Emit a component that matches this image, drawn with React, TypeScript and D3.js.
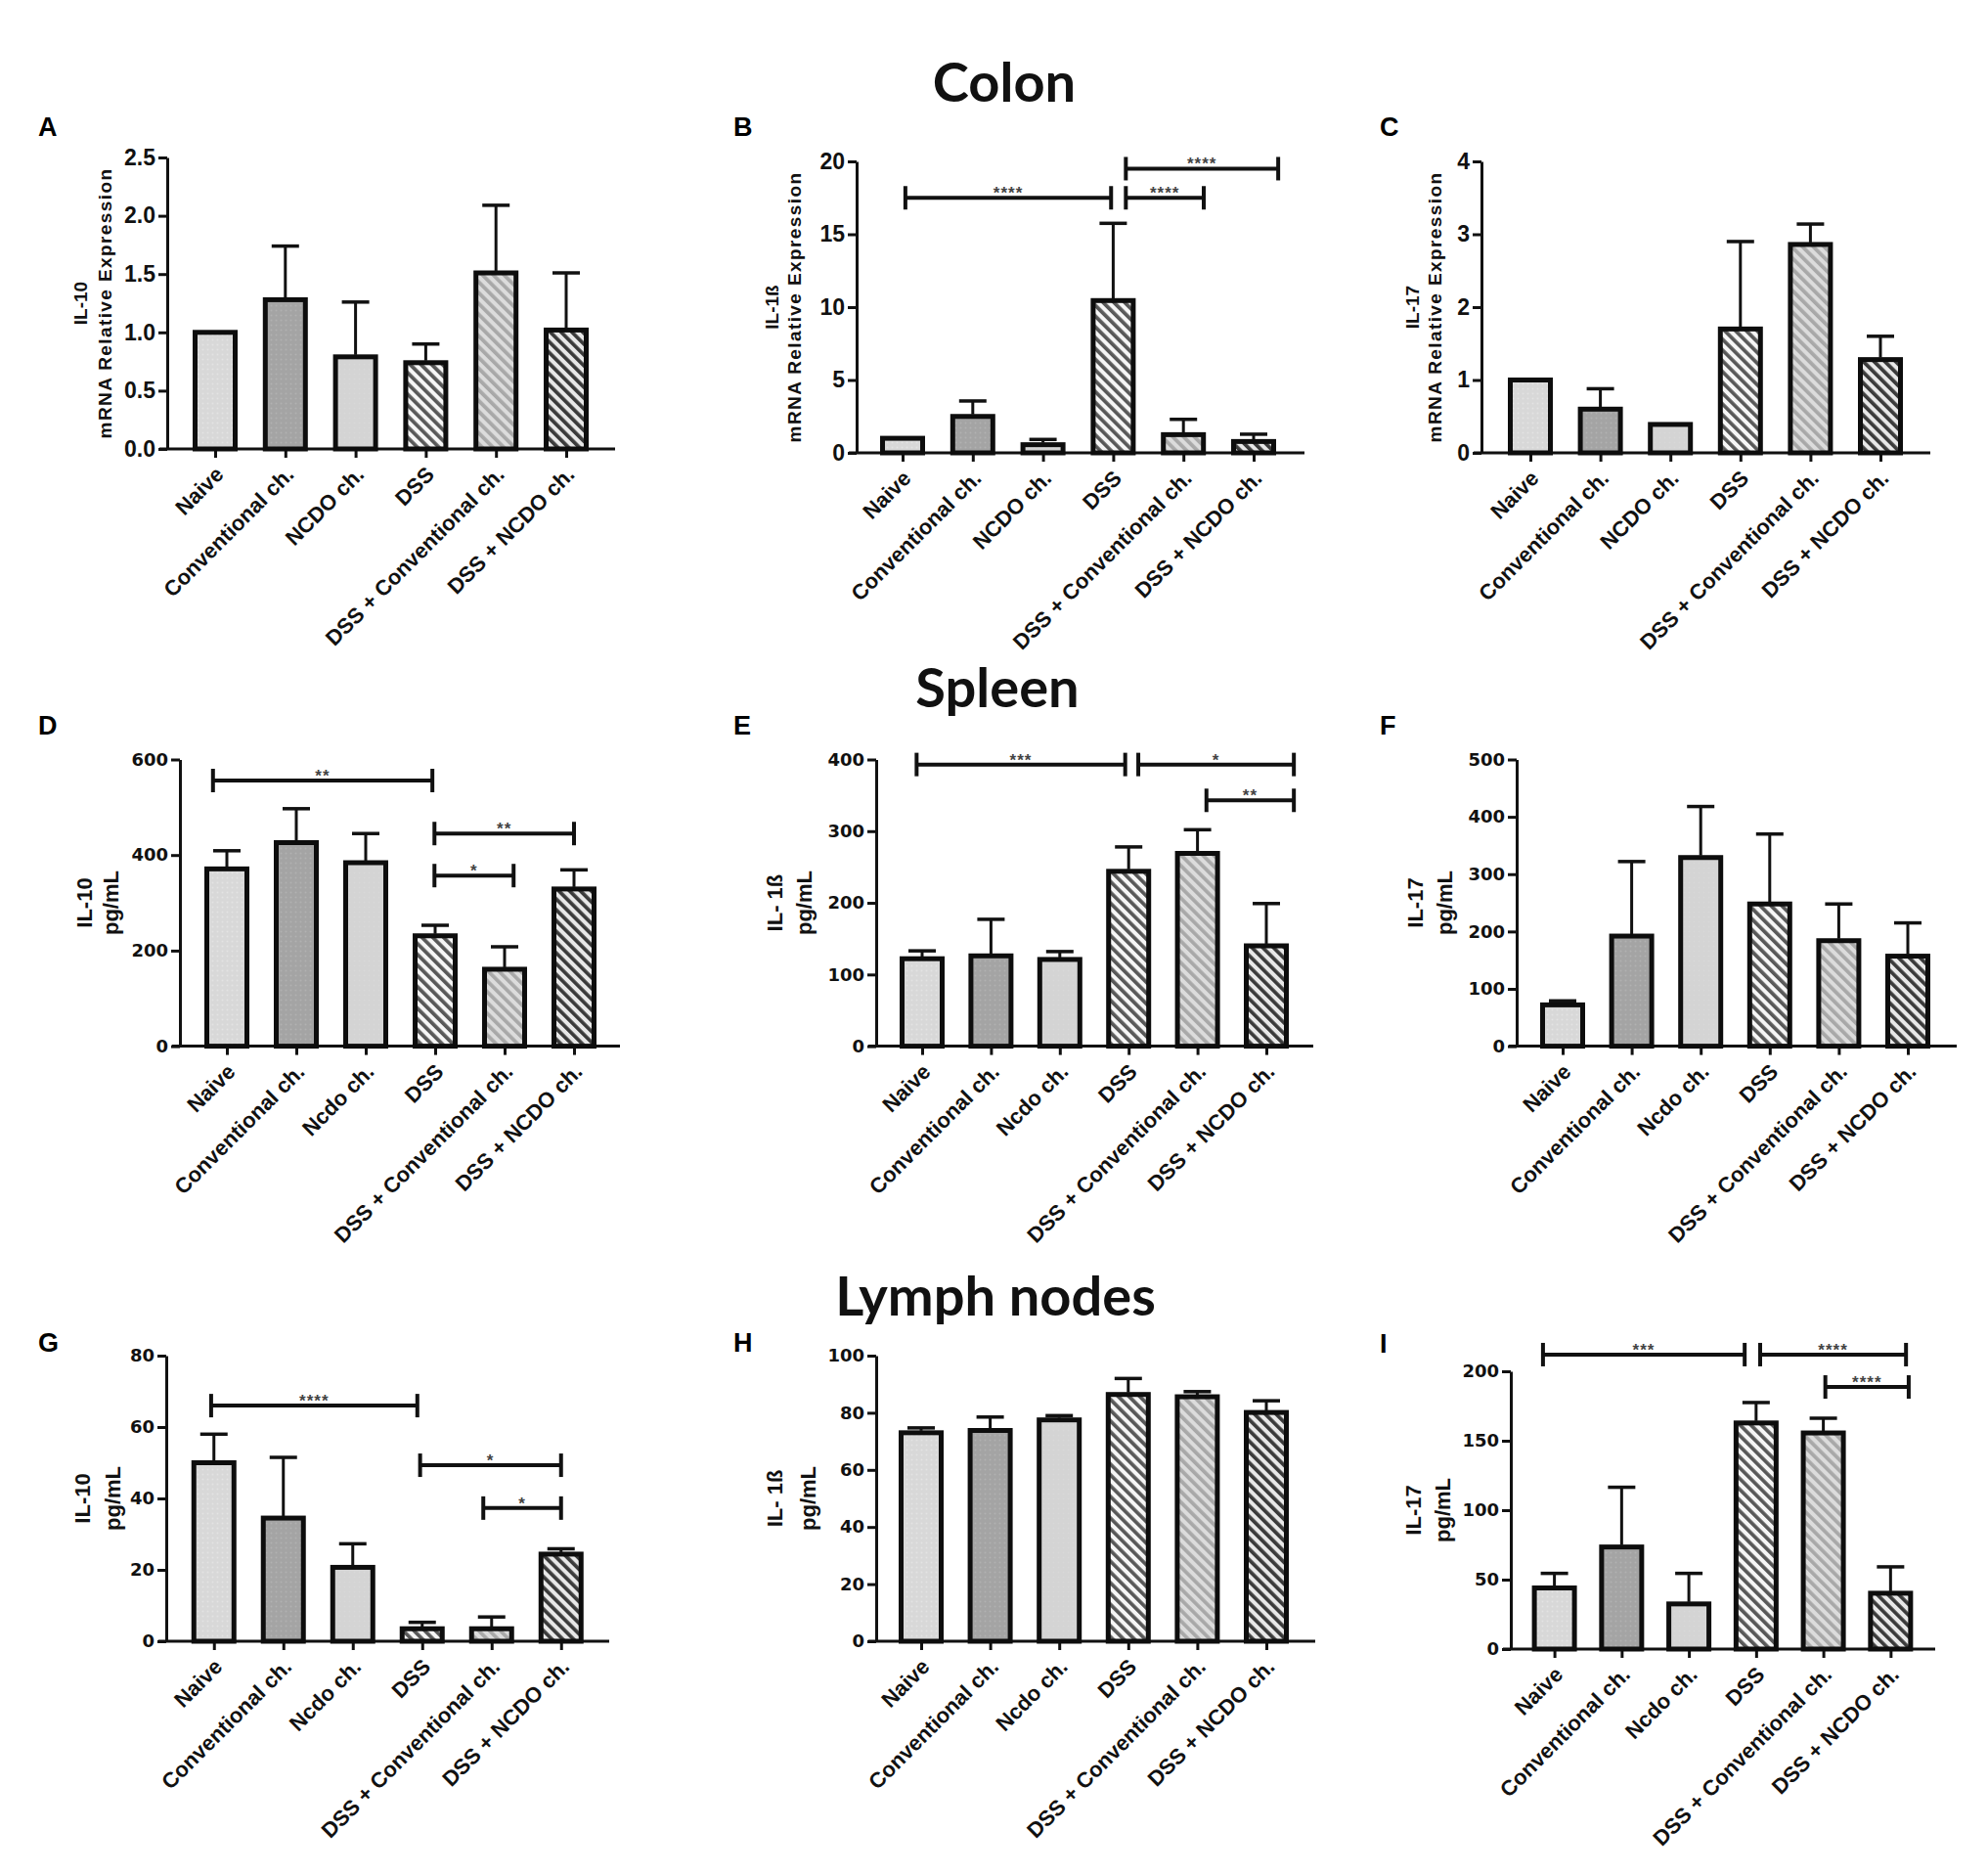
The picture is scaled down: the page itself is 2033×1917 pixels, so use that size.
import * as d3 from "d3";
import React, { useEffect, useRef } from "react";

const colonGroups = [
  "Naive",
  "Conventional ch.",
  "NCDO ch.",
  "DSS",
  "DSS + Conventional ch.",
  "DSS + NCDO ch.",
];
const tissueGroups = [
  "Naive",
  "Conventional ch.",
  "Ncdo ch.",
  "DSS",
  "DSS + Conventional ch.",
  "DSS + NCDO ch.",
];

// group means and SEM
const colonIl10Mean = [1.0, 1.28, 0.79, 0.74, 1.51, 1.02];
const colonIl10Sem = [0, 0.46, 0.47, 0.16, 0.58, 0.49];
const colonIl1bMean = [1.0, 2.5, 0.56, 10.45, 1.25, 0.78];
const colonIl1bSem = [0, 1.06, 0.36, 5.3, 1.05, 0.5];
const colonIl17Mean = [1.0, 0.6, 0.39, 1.7, 2.86, 1.28];
const colonIl17Sem = [0, 0.28, 0, 1.2, 0.28, 0.32];

const spleenIl10Mean = [371, 426, 384, 231, 161, 329];
const spleenIl10Sem = [38, 71, 61, 22, 47, 40];
const spleenIl1bMean = [122, 126, 121, 244, 269, 140];
const spleenIl1bSem = [11, 51, 11, 34, 33, 59];
const spleenIl17Mean = [72, 192, 329, 248, 184, 157];
const spleenIl17Sem = [7, 130, 89, 122, 64, 58];

const lymphIl10Mean = [50, 34.5, 20.7, 3.5, 3.5, 24.4];
const lymphIl10Sem = [8, 17, 6.6, 1.8, 3.3, 1.5];
const lymphIl1bMean = [73, 73.8, 77.5, 86.4, 85.6, 80.1];
const lymphIl1bSem = [1.7, 4.7, 1.5, 5.6, 1.8, 4.1];
const lymphIl17Mean = [44, 73.5, 32.5, 162.8, 155.6, 40.2];
const lymphIl17Sem = [10.5, 43, 22, 14.7, 10.6, 19];

type Bracket = { from: number; to: number; at: number; label: string };

// significance bars: from/to are group positions, at is the y value
const colonIl1bSig: Bracket[] = [
  { from: 0.04, to: 2.97, at: 17.5, label: "****" },
  { from: 3.18, to: 4.29, at: 17.5, label: "****" },
  { from: 3.18, to: 5.35, at: 19.5, label: "****" },
];
const spleenIl10Sig: Bracket[] = [
  { from: -0.2, to: 2.96, at: 556, label: "**" },
  { from: 2.99, to: 5.0, at: 445, label: "**" },
  { from: 2.99, to: 4.13, at: 357, label: "*" },
];
const spleenIl1bSig: Bracket[] = [
  { from: -0.08, to: 2.95, at: 393, label: "***" },
  { from: 3.14, to: 5.4, at: 393, label: "*" },
  { from: 4.13, to: 5.4, at: 343, label: "**" },
];
const lymphIl10Sig: Bracket[] = [
  { from: -0.04, to: 2.93, at: 66, label: "****" },
  { from: 2.97, to: 5.0, at: 49.3, label: "*" },
  { from: 3.88, to: 5.0, at: 37.3, label: "*" },
];
const lymphIl17Sig: Bracket[] = [
  { from: -0.17, to: 2.83, at: 212, label: "***" },
  { from: 3.06, to: 5.23, at: 212, label: "****" },
  { from: 4.03, to: 5.27, at: 188.7, label: "****" },
];

const sectionTitles = ["Colon", "Spleen", "Lymph nodes"];

const fillIds = ["fNaive", "fConv", "fNcdo", "fDss", "fDssConv", "fDssNcdo"];

type Panel = {
  letter: string;
  lx: number;
  ly: number;
  groups: string[];
  mean: number[];
  sem: number[];
  sig: Bracket[];
  yMax: number;
  ticks: number[];
  fmt: (v: number) => string;
  ylabel: string[];
  x0: number;
  x1: number;
  c0: number;
  step: number;
  yBase: number;
  yTop: number;
  lab: [number, number];
  row: number;
};

const f1 = (v: number) => d3.format(".1f")(v);
const f0 = (v: number) => d3.format("d")(v);

const panels: Panel[] = [
  { letter: "A", lx: 39, ly: 139, groups: colonGroups, mean: colonIl10Mean, sem: colonIl10Sem, sig: [], yMax: 2.5, ticks: [0, 0.5, 1, 1.5, 2, 2.5], fmt: f1, ylabel: ["IL-10", "mRNA Relative Expression"], x0: 171, x1: 629, c0: 220, step: 71.8, yBase: 459, yTop: 161, lab: [-82, -57], row: 0 },
  { letter: "B", lx: 750, ly: 139, groups: colonGroups, mean: colonIl1bMean, sem: colonIl1bSem, sig: colonIl1bSig, yMax: 20, ticks: [0, 5, 10, 15, 20], fmt: f0, ylabel: ["IL-1ß", "mRNA Relative Expression"], x0: 876, x1: 1334, c0: 923, step: 71.8, yBase: 463, yTop: 165, lab: [-80, -57], row: 0 },
  { letter: "C", lx: 1411, ly: 139, groups: colonGroups, mean: colonIl17Mean, sem: colonIl17Sem, sig: [], yMax: 4, ticks: [0, 1, 2, 3, 4], fmt: f0, ylabel: ["IL-17", "mRNA Relative Expression"], x0: 1515, x1: 1974, c0: 1565, step: 71.6, yBase: 463, yTop: 165, lab: [-64, -41], row: 0 },
  { letter: "D", lx: 39, ly: 751, groups: tissueGroups, mean: spleenIl10Mean, sem: spleenIl10Sem, sig: spleenIl10Sig, yMax: 600, ticks: [0, 200, 400, 600], fmt: f0, ylabel: ["IL-10", "pg/mL"], x0: 184, x1: 634, c0: 232, step: 71, yBase: 1069.6, yTop: 776.5, lab: [-90, -63], row: 1 },
  { letter: "E", lx: 750, ly: 751, groups: tissueGroups, mean: spleenIl1bMean, sem: spleenIl1bSem, sig: spleenIl1bSig, yMax: 400, ticks: [0, 100, 200, 300, 400], fmt: f0, ylabel: ["IL- 1ß", "pg/mL"], x0: 896, x1: 1343, c0: 943, step: 70.4, yBase: 1069.6, yTop: 776.5, lab: [-96, -66], row: 1 },
  { letter: "F", lx: 1411, ly: 751, groups: tissueGroups, mean: spleenIl17Mean, sem: spleenIl17Sem, sig: [], yMax: 500, ticks: [0, 100, 200, 300, 400, 500], fmt: f0, ylabel: ["IL-17", "pg/mL"], x0: 1551, x1: 2001, c0: 1598, step: 70.6, yBase: 1069.6, yTop: 776.5, lab: [-96, -66], row: 1 },
  { letter: "G", lx: 39, ly: 1382, groups: tissueGroups, mean: lymphIl10Mean, sem: lymphIl10Sem, sig: lymphIl10Sig, yMax: 80, ticks: [0, 20, 40, 60, 80], fmt: f0, ylabel: ["IL-10", "pg/mL"], x0: 170, x1: 623, c0: 218.75, step: 71, yBase: 1678, yTop: 1386, lab: [-78, -47], row: 2 },
  { letter: "H", lx: 750, ly: 1382, groups: tissueGroups, mean: lymphIl1bMean, sem: lymphIl1bSem, sig: [], yMax: 100, ticks: [0, 20, 40, 60, 80, 100], fmt: f0, ylabel: ["IL- 1ß", "pg/mL"], x0: 896, x1: 1345, c0: 942, step: 70.6, yBase: 1678, yTop: 1386, lab: [-96, -62], row: 2 },
  { letter: "I", lx: 1411, ly: 1383, groups: tissueGroups, mean: lymphIl17Mean, sem: lymphIl17Sem, sig: lymphIl17Sig, yMax: 200, ticks: [0, 50, 100, 150, 200], fmt: f0, ylabel: ["IL-17", "pg/mL"], x0: 1545, x1: 1979, c0: 1589.6, step: 68.75, yBase: 1686, yTop: 1402, lab: [-92, -62], row: 2 },
];

const titlePos = [
  { x: 1027, y: 104 },
  { x: 1020, y: 723 },
  { x: 1018, y: 1345 },
];

const ARIAL = "'Liberation Sans', Arial, sans-serif";
const WIDE = "'DejaVu Sans', Verdana, sans-serif";

function stripes(defs: any, id: string, bg: string, fg: string) {
  const p = defs
    .append("pattern")
    .attr("id", id)
    .attr("patternUnits", "userSpaceOnUse")
    .attr("width", 7.8)
    .attr("height", 7.8)
    .attr("patternTransform", "rotate(-45)");
  p.append("rect").attr("width", 7.8).attr("height", 7.8).attr("fill", bg);
  p.append("rect").attr("width", 3.7).attr("height", 7.8).attr("fill", fg);
}

function dots(defs: any, id: string, bg: string, dot: string) {
  const p = defs
    .append("pattern")
    .attr("id", id)
    .attr("patternUnits", "userSpaceOnUse")
    .attr("width", 5)
    .attr("height", 5);
  p.append("rect").attr("width", 5).attr("height", 5).attr("fill", bg);
  p.append("circle").attr("cx", 2.5).attr("cy", 2.5).attr("r", 1).attr("fill", dot);
}

const App: React.FC = () => {
  const ref = useRef<SVGSVGElement>(null);

  useEffect(() => {
    if (!ref.current) return;
    const svg = d3.select(ref.current);
    svg.selectAll("*").remove();

    const defs = svg.append("defs");
    dots(defs, "fNaive", "#d8d8d8", "#e3e3e3");
    dots(defs, "fConv", "#a4a4a4", "#b1b1b1");
    dots(defs, "fNcdo", "#d4d4d4", "#d8d8d8");
    stripes(defs, "fDss", "#f6f6f6", "#585858");
    stripes(defs, "fDssConv", "#dcdcdc", "#a8a8a8");
    stripes(defs, "fDssNcdo", "#e8e8e8", "#3a3a3a");

    svg
      .selectAll(".section")
      .data(sectionTitles)
      .enter()
      .append("text")
      .attr("x", (_, i) => titlePos[i].x)
      .attr("y", (_, i) => titlePos[i].y)
      .attr("text-anchor", "middle")
      .style("font-family", "Lato, 'Open Sans', sans-serif")
      .style("font-weight", 700)
      .style("font-size", "56px")
      .attr("fill", "#111")
      .text((d) => d);

    panels.forEach((p) => {
      const g = svg.append("g");
      const y = d3.scaleLinear().domain([0, p.yMax]).range([p.yBase, p.yTop]);
      const last = p.c0 + (p.groups.length - 1) * p.step;
      const x = d3.scalePoint<string>().domain(p.groups).range([p.c0, last]);
      const pos = d3.scaleLinear().domain([0, p.groups.length - 1]).range([p.c0, last]);
      const bw = 41;
      const tickFont = p.row === 0 ? ARIAL : WIDE;
      const tickSize = p.row === 0 ? "23px" : "18px";

      g.append("text")
        .attr("x", p.lx)
        .attr("y", p.ly)
        .style("font-family", ARIAL)
        .style("font-weight", 700)
        .style("font-size", "27px")
        .attr("fill", "#000")
        .text(p.letter);

      // y axis
      const ya = g
        .append("g")
        .attr("transform", `translate(${p.x0},0)`)
        .call(
          d3
            .axisLeft(y)
            .tickValues(p.ticks)
            .tickFormat((v) => p.fmt(+v))
            .tickSize(9)
            .tickSizeOuter(0)
            .tickPadding(3)
        );
      ya.select(".domain").attr("stroke", "#111").attr("stroke-width", 3);
      ya.selectAll(".tick line").attr("stroke", "#111").attr("stroke-width", 3);
      ya.selectAll(".tick text")
        .style("font-family", tickFont)
        .style("font-weight", 700)
        .style("font-size", tickSize)
        .attr("fill", "#111");

      // x axis
      g.append("line")
        .attr("x1", p.x0 - 8)
        .attr("x2", p.x1)
        .attr("y1", p.yBase)
        .attr("y2", p.yBase)
        .attr("stroke", "#111")
        .attr("stroke-width", 3);
      const xa = g
        .append("g")
        .attr("transform", `translate(0,${p.yBase})`)
        .call(d3.axisBottom(x).tickSize(9).tickSizeOuter(0));
      xa.select(".domain").remove();
      xa.selectAll(".tick line").attr("stroke", "#111").attr("stroke-width", 3);
      xa.selectAll(".tick text")
        .attr("x", 0)
        .attr("y", 0)
        .attr("dy", "0.35em")
        .attr("text-anchor", "end")
        .attr("transform", "translate(4,22) rotate(-45)")
        .style("font-family", ARIAL)
        .style("font-weight", 700)
        .style("font-size", "22px")
        .attr("fill", "#111");

      // y label
      const labSize = p.row === 0 ? 19 : 22;
      const yc = (p.yBase + p.yTop) / 2;
      p.ylabel.forEach((t, i) => {
        g.append("text")
          .attr("transform", `translate(${p.x0 + p.lab[i]},${yc}) rotate(-90)`)
          .attr("text-anchor", "middle")
          .style("font-family", ARIAL)
          .style("font-weight", 700)
          .style("font-size", `${labSize}px`)
          .style("letter-spacing", p.row === 0 && i === 1 ? "1.4px" : "0px")
          .attr("fill", "#111")
          .text(t);
      });

      const data = p.groups.map((name, i) => ({ name, i, m: p.mean[i], s: p.sem[i] }));

      g.selectAll(".bar")
        .data(data)
        .enter()
        .append("rect")
        .attr("x", (d) => (x(d.name) ?? 0) - bw / 2)
        .attr("width", bw)
        .attr("y", (d) => y(d.m))
        .attr("height", (d) => p.yBase - y(d.m))
        .attr("fill", (d) => `url(#${fillIds[d.i]})`)
        .attr("stroke", "#0d0d0d")
        .attr("stroke-width", 5);

      const errs = data.filter((d) => d.s > 0);
      g.selectAll(".err")
        .data(errs)
        .enter()
        .append("line")
        .attr("x1", (d) => x(d.name) ?? 0)
        .attr("x2", (d) => x(d.name) ?? 0)
        .attr("y1", (d) => y(d.m) - 2)
        .attr("y2", (d) => y(d.m + d.s))
        .attr("stroke", "#111")
        .attr("stroke-width", 3);
      g.selectAll(".cap")
        .data(errs)
        .enter()
        .append("line")
        .attr("x1", (d) => (x(d.name) ?? 0) - 14)
        .attr("x2", (d) => (x(d.name) ?? 0) + 14)
        .attr("y1", (d) => y(d.m + d.s))
        .attr("y2", (d) => y(d.m + d.s))
        .attr("stroke", "#111")
        .attr("stroke-width", 3.5);

      // significance brackets
      const sg = g.selectAll(".sig").data(p.sig).enter().append("g");
      sg.append("line")
        .attr("x1", (d) => pos(d.from))
        .attr("x2", (d) => pos(d.to))
        .attr("y1", (d) => y(d.at))
        .attr("y2", (d) => y(d.at))
        .attr("stroke", "#111")
        .attr("stroke-width", 4);
      sg.append("line")
        .attr("x1", (d) => pos(d.from))
        .attr("x2", (d) => pos(d.from))
        .attr("y1", (d) => y(d.at) - 12)
        .attr("y2", (d) => y(d.at) + 12)
        .attr("stroke", "#111")
        .attr("stroke-width", 4);
      sg.append("line")
        .attr("x1", (d) => pos(d.to))
        .attr("x2", (d) => pos(d.to))
        .attr("y1", (d) => y(d.at) - 12)
        .attr("y2", (d) => y(d.at) + 12)
        .attr("stroke", "#111")
        .attr("stroke-width", 4);
      sg.append("text")
        .attr("x", (d) => (pos(d.from) + pos(d.to)) / 2)
        .attr("y", (d) => y(d.at) + 1)
        .attr("text-anchor", "middle")
        .style("font-family", ARIAL)
        .style("font-weight", 700)
        .style("font-size", "17px")
        .style("letter-spacing", "1px")
        .attr("fill", "#444")
        .text((d) => d.label);
    });
  }, []);

  return (
    <svg
      ref={ref}
      width={2033}
      height={1917}
      style={{ position: "absolute", left: 0, top: 0, background: "#fff" }}
    />
  );
};

export default App;
